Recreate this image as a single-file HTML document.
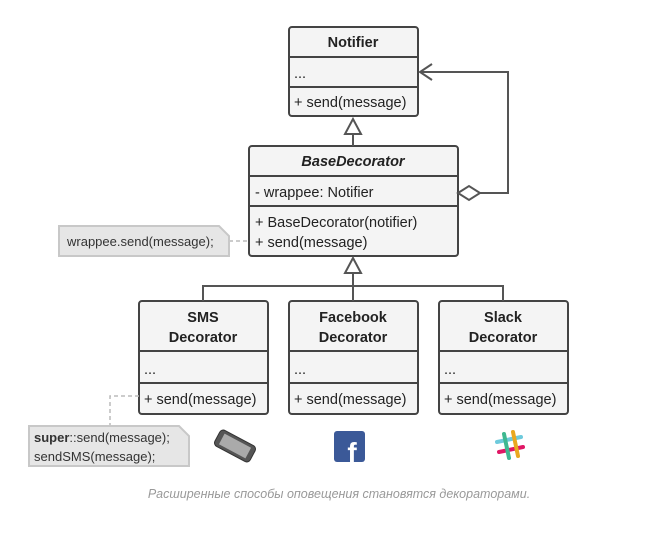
<!DOCTYPE html>
<html><head><meta charset="utf-8"><style>
body{margin:0;background:#fff;width:651px;height:536px;overflow:hidden;font-family:"Liberation Sans","DejaVu Sans",sans-serif}
</style></head><body>
<svg width="651" height="536" xmlns="http://www.w3.org/2000/svg" font-family="Liberation Sans, DejaVu Sans, sans-serif">
<g stroke="#444" stroke-width="2" fill="#f4f4f4">
<rect x="289" y="27" width="129" height="89" rx="3"/>
<line x1="289" y1="57" x2="418" y2="57"/><line x1="289" y1="87" x2="418" y2="87"/>
<rect x="249" y="146" width="209" height="110" rx="3"/>
<line x1="249" y1="176" x2="458" y2="176"/><line x1="249" y1="206" x2="458" y2="206"/>
<rect x="139" y="301" width="129" height="113" rx="3"/>
<line x1="139" y1="351" x2="268" y2="351"/><line x1="139" y1="383" x2="268" y2="383"/>
<rect x="289" y="301" width="129" height="113" rx="3"/>
<line x1="289" y1="351" x2="418" y2="351"/><line x1="289" y1="383" x2="418" y2="383"/>
<rect x="439" y="301" width="129" height="113" rx="3"/>
<line x1="439" y1="351" x2="568" y2="351"/><line x1="439" y1="383" x2="568" y2="383"/>
</g>
<g stroke="#555" stroke-width="2" fill="none">
<line x1="353" y1="134" x2="353" y2="146"/>
<polygon points="353,119 345,134 361,134" fill="#fff"/>
<polyline points="480,193 508,193 508,72 420,72"/>
<polyline points="432,64 420,72 432,80"/>
<polygon points="458,193 469,186 480,193 469,200" fill="#fff"/>
<polygon points="353,258 345,273 361,273" fill="#fff"/>
<line x1="353" y1="273" x2="353" y2="286"/>
<polyline points="203,301 203,286 503,286 503,301"/>
<line x1="353" y1="286" x2="353" y2="301"/>
</g>
<g stroke="#bbb" stroke-width="1.5" stroke-dasharray="4,3" fill="none">
<line x1="229" y1="241" x2="249" y2="241"/>
<polyline points="139,396 110,396 110,426"/>
</g>
<g fill="#e6e6e6" stroke="#c8c8c8" stroke-width="2">
<polygon points="59,226 219,226 229,236 229,256 59,256"/>
<polygon points="29,426 179,426 189,436 189,466 29,466"/>
</g>
<g font-size="14.5" fill="#222">
<text x="353" y="47" text-anchor="middle" font-weight="bold">Notifier</text>
<text x="294" y="78">...</text>
<text x="294" y="107">+ send(message)</text>
<text x="353" y="166" text-anchor="middle" font-weight="bold" font-style="italic">BaseDecorator</text>
<text x="255" y="197">- wrappee: Notifier</text>
<text x="255" y="227">+ BaseDecorator(notifier)</text>
<text x="255" y="247">+ send(message)</text>
<g font-weight="bold" text-anchor="middle">
<text x="203" y="322">SMS</text><text x="203" y="342">Decorator</text>
<text x="353" y="322">Facebook</text><text x="353" y="342">Decorator</text>
<text x="503" y="322">Slack</text><text x="503" y="342">Decorator</text>
</g>
<text x="144" y="374">...</text><text x="294" y="374">...</text><text x="444" y="374">...</text>
<text x="144" y="404">+ send(message)</text><text x="294" y="404">+ send(message)</text><text x="444" y="404">+ send(message)</text>
</g>
<g font-size="13" fill="#333">
<text x="67" y="246">wrappee.send(message);</text>
<text x="34" y="442"><tspan font-weight="bold">super</tspan>::send(message);</text>
<text x="34" y="461">sendSMS(message);</text>
</g>
<g transform="translate(235,446) rotate(28)">
<rect x="-20" y="-9" width="40" height="18" rx="4" fill="#555" stroke="#333"/>
<rect x="-15" y="-6" width="30" height="12" fill="#aaa"/>
</g>
<rect x="334" y="431" width="31" height="31" rx="3" fill="#3b5998"/>
<text x="352" y="462" font-size="28" font-weight="bold" fill="#fff" text-anchor="middle">f</text>
<g stroke-width="4" stroke-linecap="round">
<line x1="497" y1="442" x2="521" y2="437" stroke="#6ecadc"/>
<line x1="499" y1="452" x2="523" y2="447" stroke="#e01765"/>
<line x1="504" y1="434" x2="509" y2="458" stroke="#3eb890"/>
<line x1="513" y1="432" x2="518" y2="456" stroke="#e9a820"/>
</g>
<text x="339" y="498" font-size="12.5" font-style="italic" fill="#999" text-anchor="middle">Расширенные способы оповещения становятся декораторами.</text>
</svg>
</body></html>
